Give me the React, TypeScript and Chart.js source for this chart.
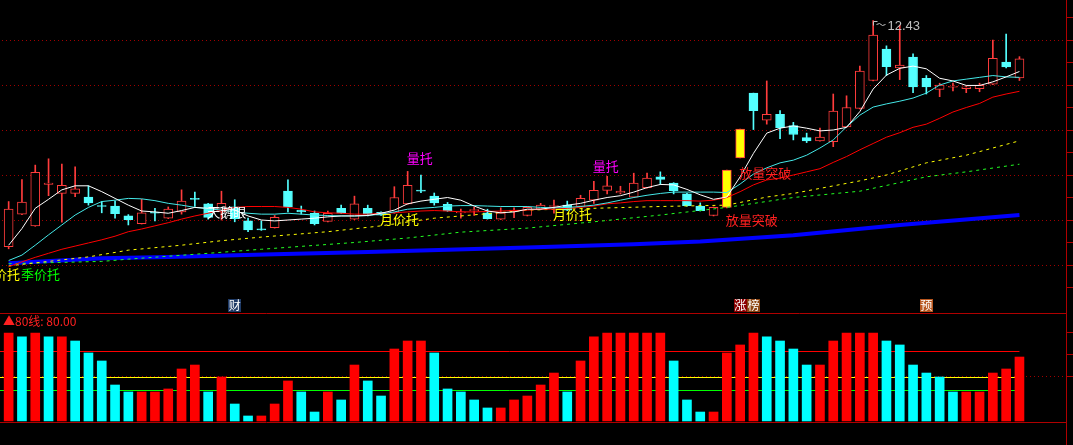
import React, { useEffect, useRef } from 'react';
import { Chart, registerables } from 'chart.js';

Chart.register(...registerables);

// ---------- categories ----------
const dayLabels = Array.from({ length: 80 }, (_, i) => `D${i + 1}`);

// ---------- candles (77 trading days) ----------
const opens = [
  7.41, 8.13, 7.87, 8.79, 8.59, 8.59, 8.51, 8.32, 8.31, 8.09,
  7.92, 8.17, 8.04, 8.18, 8.48, 8.36, 8.18, 8.29, 7.98, 7.80,
  7.83, 8.64, 8.22, 8.15, 7.97, 8.26, 8.02, 8.26, 8.17, 8.16,
  8.36, 8.66, 8.53, 8.35, 8.16, 8.21, 8.16, 8.02, 8.20, 8.10,
  8.24, 8.30, 8.33, 8.30, 8.44, 8.66, 8.60, 8.51, 8.72, 8.96,
  8.82, 8.58, 8.31, 8.10, 8.28, 9.38, 10.82, 10.22, 10.35, 10.10,
  9.83, 9.76, 9.74, 10.07, 10.48, 11.10, 11.80, 11.38, 11.62, 11.15,
  10.90, 10.95, 10.92, 10.92, 11.02, 11.51, 11.16,
];
const closes = [
  8.24, 8.40, 9.06, 8.82, 8.77, 8.69, 8.38, 8.30, 8.14, 8.01,
  8.16, 8.15, 8.24, 8.42, 8.46, 8.06, 8.37, 8.03, 7.78, 7.78,
  8.06, 8.29, 8.18, 7.92, 8.15, 8.15, 8.36, 8.13, 8.11, 8.50,
  8.77, 8.64, 8.38, 8.20, 8.18, 8.23, 8.03, 8.16, 8.22, 8.28,
  8.33, 8.32, 8.22, 8.48, 8.66, 8.76, 8.64, 8.82, 8.93, 8.90,
  8.65, 8.32, 8.21, 8.28, 9.11, 10.02, 10.43, 10.35, 10.05, 9.90,
  9.76, 9.84, 10.42, 10.50, 11.31, 12.11, 11.41, 11.44, 10.96, 10.96,
  11.00, 10.97, 10.96, 10.99, 11.59, 11.40, 11.58,
];
const highs = [
  8.41, 8.90, 9.22, 9.36, 9.24, 9.18, 8.76, 8.41, 8.42, 8.12,
  8.46, 8.26, 8.29, 8.67, 8.62, 8.37, 8.64, 8.45, 8.04, 7.98,
  8.10, 8.89, 8.31, 8.20, 8.20, 8.33, 8.53, 8.33, 8.18, 8.74,
  9.08, 9.00, 8.60, 8.39, 8.24, 8.28, 8.24, 8.27, 8.27, 8.30,
  8.37, 8.44, 8.42, 8.55, 8.86, 8.97, 8.75, 9.04, 9.04, 9.07,
  8.83, 8.59, 8.38, 8.29, 9.11, 10.02, 10.82, 11.09, 10.43, 10.17,
  9.93, 10.04, 10.80, 10.76, 11.42, 12.43, 11.87, 12.33, 11.69, 11.21,
  11.04, 11.04, 10.97, 11.04, 12.00, 12.13, 11.63,
];
const lows = [
  7.36, 8.12, 7.86, 8.54, 7.95, 8.52, 8.33, 8.16, 8.04, 7.89,
  7.91, 7.98, 8.03, 8.13, 8.30, 8.02, 8.00, 7.96, 7.74, 7.77,
  7.82, 8.18, 8.13, 7.89, 7.96, 8.14, 8.01, 8.09, 8.10, 8.15,
  8.35, 8.61, 8.33, 8.19, 8.04, 8.10, 8.02, 8.01, 8.05, 8.09,
  8.23, 8.15, 8.21, 8.29, 8.37, 8.58, 8.58, 8.50, 8.71, 8.79,
  8.58, 8.31, 8.20, 8.09, 8.27, 9.38, 10.01, 10.13, 9.81, 9.78,
  9.72, 9.75, 9.63, 10.06, 10.47, 11.09, 11.21, 11.12, 10.83, 10.80,
  10.74, 10.87, 10.83, 10.85, 11.01, 11.38, 11.10,
];
const limitUpDays = [54, 55];

// ---------- moving averages ----------
const ma5 = [
  7.44, 7.81, 8.26, 8.46, 8.67, 8.76, 8.76, 8.63, 8.48, 8.33,
  8.20, 8.18, 8.15, 8.21, 8.28, 8.26, 8.27, 8.22, 8.09, 8.00,
  7.98, 8.00, 8.02, 8.04, 8.07, 8.09, 8.09, 8.10, 8.15, 8.22,
  8.36, 8.42, 8.46, 8.50, 8.44, 8.31, 8.20, 8.16, 8.18, 8.24,
  8.24, 8.28, 8.33, 8.37, 8.44, 8.50, 8.54, 8.62, 8.72, 8.79,
  8.78, 8.68, 8.56, 8.46, 8.51, 8.96, 9.48, 9.93, 10.04, 10.09,
  10.04, 9.98, 10.00, 10.06, 10.41, 10.91, 11.22, 11.37, 11.42, 11.36,
  11.15, 11.09, 10.99, 10.99, 11.07, 11.18, 11.30,
];
const ma10 = [
  7.10, 7.22, 7.44, 7.67, 7.89, 8.11, 8.28, 8.41, 8.44, 8.48,
  8.47, 8.43, 8.37, 8.33, 8.28, 8.25, 8.22, 8.18, 8.15, 8.13,
  8.13, 8.15, 8.13, 8.11, 8.10, 8.09, 8.09, 8.10, 8.13, 8.18,
  8.24, 8.26, 8.28, 8.31, 8.32, 8.32, 8.31, 8.30, 8.30, 8.30,
  8.28, 8.27, 8.28, 8.30, 8.33, 8.38, 8.44, 8.50, 8.55, 8.59,
  8.62, 8.62, 8.62, 8.62, 8.61, 8.80, 9.02, 9.16, 9.27, 9.33,
  9.44, 9.60, 9.78, 10.07, 10.33, 10.51, 10.58, 10.64, 10.71, 10.82,
  11.00, 11.09, 11.13, 11.17, 11.21, 11.18, 11.17,
];
const ma20 = [
  6.96, 7.07, 7.17, 7.26, 7.35, 7.42, 7.49, 7.56, 7.64, 7.74,
  7.80, 7.87, 7.94, 8.02, 8.09, 8.15, 8.22, 8.28, 8.30, 8.30,
  8.30, 8.28, 8.24, 8.18, 8.16, 8.15, 8.13, 8.13, 8.15, 8.16,
  8.18, 8.20, 8.21, 8.20, 8.18, 8.18, 8.19, 8.20, 8.21, 8.22,
  8.24, 8.24, 8.26, 8.28, 8.31, 8.36, 8.38, 8.41, 8.43, 8.43,
  8.43, 8.43, 8.42, 8.44, 8.50, 8.63, 8.78, 8.89, 8.93, 9.00,
  9.07, 9.14, 9.28, 9.41, 9.56, 9.70, 9.84, 9.94, 10.06, 10.13,
  10.26, 10.40, 10.50, 10.59, 10.73, 10.80, 10.86,
];
// sparse readings [day index, value]
const ma60Points = [
  [0, 6.98], [6, 7.18], [9, 7.33], [13, 7.44], [16, 7.54], [19, 7.62], [24, 7.74],
  [28, 7.87], [32, 8.04], [36, 8.14], [39, 8.22], [44, 8.26], [49, 8.30], [54, 8.33],
  [57, 8.51], [59, 8.59], [64, 8.87], [66, 9.00], [69, 9.27], [72, 9.44], [76, 9.76],
];
const ma120Points = [
  [0, 7.03], [7, 7.08], [9, 7.13], [15, 7.26], [19, 7.35], [26, 7.50], [30, 7.60],
  [34, 7.73], [39, 7.82], [44, 7.96], [49, 8.11], [54, 8.28], [59, 8.50], [64, 8.64],
  [69, 8.96], [72, 9.07], [76, 9.24],
];
const ma250Points = [
  [0, 7.04], [7, 7.15], [12, 7.18], [20, 7.24], [27, 7.29], [39, 7.39], [47, 7.46],
  [52, 7.52], [59, 7.66], [67, 7.89], [76, 8.11],
];

const priceMin = 6.2667;
const priceMax = 12.8889;
const priceTicks = [6.5, 7, 7.5, 8, 8.5, 9, 9.5, 10, 10.5, 11, 11.5, 12, 12.5];

const signalLabels = [
  { text: '量托', index: 30, price: 9.38, color: '#ff00ff' },
  { text: '量托', index: 44, price: 9.2, color: '#ff00ff' },
  { text: '月价托', index: 28, price: 8.01, color: '#ffff00' },
  { text: '月价托', index: 41, price: 8.14, color: '#ffff00' },
  { text: '月价托', index: -2, price: 6.79, color: '#ffff00' },
  { text: '季价托', index: 1, price: 6.79, color: '#00ff00' },
  { text: '天鹅眼', index: 15, price: 8.17, color: '#ffffff' },
  { text: '放量突破', index: 54, price: 8.0, color: '#ff2020' },
  { text: '放量突破', index: 55, price: 9.04, color: '#ff2020' },
];

// ---------- lower panel ----------
const breadth = [
  100, 95.5, 100, 95.5, 95.5, 90.9, 77.3, 68.2, 40.9, 33,
  33, 33, 36.4, 59.1, 63.6, 33, 50, 19.3, 5.7, 5.7,
  19.3, 45.5, 33, 10.2, 33, 23.9, 63.6, 45.5, 28.4, 81.8,
  90.9, 90.9, 77.3, 36.4, 33, 23.9, 14.8, 14.8, 23.9, 28.4,
  40.9, 54.5, 33, 68.2, 95.5, 100, 100, 100, 100, 100,
  68.2, 23.9, 10.2, 10.2, 77.3, 86.4, 100, 95.5, 90.9, 81.8,
  63.6, 63.6, 90.9, 100, 100, 100, 90.9, 86.4, 63.6, 54.5,
  50, 33, 33, 33, 54.5, 59.1, 72.7,
];
const breadthSides =
  'RCRCRCCCCC' + 'RRRRRCRCCR' + 'RRCCRCRCCR' + 'RRCCCCCRRR' +
  'RRCRRRRRRR' + 'CCCRRRRCCC' + 'CRRRRRCCCC' + 'CCRRRRR';
const breadthLevels = [
  { value: 80, color: '#ff0000' },
  { value: 50, color: '#ffff00' },
  { value: 35, color: '#00ff00' },
];
const breadthTicks = [50, 75, 100];
const breadthMin = -1.14;
const breadthMax = 122.72;
const eventMarks = [
  { index: 17, text: '财', bg: '#1e3a66' },
  { index: 55, text: '涨', bg: '#8b0000' },
  { index: 56, text: '榜', bg: '#8b4513' },
  { index: 69, text: '预', bg: '#b8561e' },
];

const RED = '#ff3c3c';
const CYAN = '#54ffff';
const AXIS_RED = '#b00000';
const GRID_RED = '#a00000';
const CJK = '"Noto Sans CJK SC", sans-serif';

const toPoints = (pts: number[][]) => pts.map(([i, v]) => ({ x: dayLabels[i], y: v }));

const rightAxisLine = {
  id: 'rightAxisLine',
  afterDraw(chart: any) {
    const { ctx, chartArea } = chart;
    ctx.save();
    ctx.strokeStyle = AXIS_RED;
    ctx.lineWidth = 1;
    const x = Math.round(chartArea.right) + 0.5;
    ctx.beginPath();
    ctx.moveTo(x, 0);
    ctx.lineTo(x, chart.height);
    ctx.stroke();
    ctx.restore();
  },
};

const priceOverlay = {
  id: 'priceOverlay',
  afterDatasetsDraw(chart: any) {
    const { ctx } = chart;
    const xs = chart.scales.x;
    const ys = chart.scales.y;
    ctx.save();
    ctx.font = `13px ${CJK}`;
    ctx.textBaseline = 'middle';
    ctx.textAlign = 'left';
    signalLabels.forEach((l) => {
      ctx.fillStyle = l.color;
      ctx.fillText(l.text, xs.getPixelForValue(l.index) - 1, ys.getPixelForValue(l.price));
    });
    const hi = Math.max(...highs);
    const hiIdx = highs.indexOf(hi);
    const px = Math.round(xs.getPixelForValue(hiIdx)) + 0.5;
    const py = Math.round(ys.getPixelForValue(hi)) + 0.5;
    ctx.strokeStyle = '#c0c0c0';
    ctx.lineWidth = 1;
    ctx.beginPath();
    ctx.moveTo(px, py + 4);
    ctx.lineTo(px, py);
    ctx.lineTo(px + 4, py);
    ctx.stroke();
    ctx.beginPath();
    ctx.moveTo(px + 3, py + 3);
    ctx.lineTo(px + 6, py + 2);
    ctx.lineTo(px + 9, py + 4);
    ctx.lineTo(px + 12, py + 3);
    ctx.stroke();
    ctx.fillStyle = '#c0c0c0';
    ctx.font = '13px "Liberation Sans", Arial, sans-serif';
    ctx.fillText(hi.toFixed(2), px + 14, py + 5);
    ctx.restore();
  },
};

const breadthLevelLines = {
  id: 'breadthLevelLines',
  beforeDatasetsDraw(chart: any) {
    const { ctx } = chart;
    const xs = chart.scales.x;
    const ys = chart.scales.y;
    const xEnd = xs.getPixelForValue(breadth.length - 1);
    ctx.save();
    ctx.lineWidth = 1;
    breadthLevels.forEach((lv) => {
      const y = Math.round(ys.getPixelForValue(lv.value)) + 0.5;
      ctx.strokeStyle = lv.color;
      ctx.beginPath();
      ctx.moveTo(0, y);
      ctx.lineTo(xEnd, y);
      ctx.stroke();
    });
    ctx.restore();
  },
};

const breadthOverlay = {
  id: 'breadthOverlay',
  afterDraw(chart: any) {
    const { ctx, chartArea } = chart;
    const xs = chart.scales.x;
    ctx.save();
    ctx.strokeStyle = AXIS_RED;
    ctx.lineWidth = 1;
    [chartArea.top, chartArea.bottom].forEach((yy: number) => {
      const y = Math.floor(yy) + 0.5;
      ctx.beginPath();
      ctx.moveTo(0, y);
      ctx.lineTo(chartArea.right, y);
      ctx.stroke();
    });
    ctx.font = `12px ${CJK}`;
    ctx.textBaseline = 'middle';
    ctx.textAlign = 'left';
    ctx.fillStyle = '#ff2020';
    ctx.fillText(`▲80线: ${breadthLevels[0].value.toFixed(2)}`, 3, chartArea.top + 8);
    ctx.textAlign = 'center';
    eventMarks.forEach((m) => {
      const cx = xs.getPixelForValue(m.index);
      ctx.fillStyle = m.bg;
      ctx.fillRect(Math.round(cx - 6.5), 1, 13, 13);
      ctx.fillStyle = '#ffffff';
      ctx.fillText(m.text, cx, 7.5);
    });
    ctx.restore();
  },
};

export default function App() {
  const topRef = useRef<HTMLCanvasElement | null>(null);
  const bottomRef = useRef<HTMLCanvasElement | null>(null);

  useEffect(() => {
    document.body.style.margin = '0';
    document.body.style.background = '#000';
    const up = closes.map((c, i) => c >= opens[i]);
    const bodyBg = opens.map((_, i) => (limitUpDays.includes(i) ? '#ffff00' : up[i] ? '#000000' : CYAN));
    const edge = up.map((u) => (u ? RED : CYAN));

    const lineBase = { type: 'line', pointRadius: 0, tension: 0, borderWidth: 1, fill: false };

    const top = new Chart(topRef.current as HTMLCanvasElement, {
      type: 'bar',
      data: {
        labels: dayLabels,
        datasets: [
          { ...lineBase, label: 'MA5', data: ma5, borderColor: '#ffffff', order: 0 },
          { ...lineBase, label: 'MA10', data: ma10, borderColor: '#44e8e8', order: 0 },
          { ...lineBase, label: 'MA20', data: ma20, borderColor: '#ff0000', order: 0 },
          { ...lineBase, label: 'MA60', data: toPoints(ma60Points), borderColor: '#ffff00', borderDash: [3, 4], order: 1 },
          { ...lineBase, label: 'MA120', data: toPoints(ma120Points), borderColor: '#22ff22', borderDash: [3, 4], order: 1 },
          { ...lineBase, label: 'MA250', data: toPoints(ma250Points), borderColor: '#0000ff', borderWidth: 4, order: 1 },
          {
            type: 'bar', label: 'body', data: opens.map((o, i) => [o, closes[i]]),
            backgroundColor: bodyBg, borderColor: edge, borderWidth: 1, borderSkipped: false,
            barThickness: 9, grouped: false, minBarLength: 1, order: 5,
          },
          {
            type: 'bar', label: 'wick', data: lows.map((l, i) => [l, highs[i]]),
            backgroundColor: edge, borderWidth: 0, barThickness: 1, grouped: false, order: 6,
          },
        ] as any,
      },
      options: {
        responsive: false,
        animation: false,
        devicePixelRatio: 1,
        events: [],
        layout: { padding: { left: 2, right: 0, top: 0, bottom: 0 }, autoPadding: false },
        plugins: { legend: { display: false }, tooltip: { enabled: false } },
        scales: {
          x: { type: 'category', display: false, offset: true, grid: { display: false } },
          y: {
            position: 'right', min: priceMin, max: priceMax,
            afterBuildTicks: (s: any) => { s.ticks = priceTicks.map((v) => ({ value: v })); },
            ticks: { display: false },
            grid: {
              color: (c: any) => (c.tick && Number.isInteger(c.tick.value) ? GRID_RED : 'rgba(0,0,0,0)'),
              tickColor: AXIS_RED, tickLength: 7, lineWidth: 1, drawTicks: true,
            },
            border: { display: false, dash: [1, 3] },
          },
        },
      } as any,
      plugins: [priceOverlay, rightAxisLine],
    });

    const bottom = new Chart(bottomRef.current as HTMLCanvasElement, {
      type: 'bar',
      data: {
        labels: dayLabels,
        datasets: [
          {
            label: 'breadth', data: breadth,
            backgroundColor: breadth.map((_, i) => (breadthSides[i] === 'R' ? '#ff0000' : '#00ffff')),
            borderWidth: 0, barThickness: 9, grouped: false,
          },
        ],
      },
      options: {
        responsive: false,
        animation: false,
        devicePixelRatio: 1,
        events: [],
        layout: { padding: { left: 2, right: 0, top: 15, bottom: 23 }, autoPadding: false },
        plugins: { legend: { display: false }, tooltip: { enabled: false } },
        scales: {
          x: { type: 'category', display: false, offset: true, grid: { display: false } },
          y: {
            position: 'right', min: breadthMin, max: breadthMax,
            afterBuildTicks: (s: any) => { s.ticks = breadthTicks.map((v) => ({ value: v })); },
            ticks: { display: false },
            grid: {
              color: (c: any) => (c.tick && c.tick.value === 50 ? GRID_RED : 'rgba(0,0,0,0)'),
              tickColor: AXIS_RED, tickLength: 7, lineWidth: 1, drawTicks: true,
            },
            border: { display: false, dash: [1, 3] },
          },
        },
      } as any,
      plugins: [breadthLevelLines, breadthOverlay, rightAxisLine],
    });

    return () => {
      top.destroy();
      bottom.destroy();
    };
  }, []);

  return (
    <div style={{ position: 'fixed', left: 0, top: 0, width: 1073, height: 445, background: '#000', overflow: 'hidden' }}>
      <canvas ref={topRef} width={1073} height={298} style={{ position: 'absolute', left: 0, top: 0 }} />
      <canvas ref={bottomRef} width={1073} height={147} style={{ position: 'absolute', left: 0, top: 298 }} />
    </div>
  );
}
